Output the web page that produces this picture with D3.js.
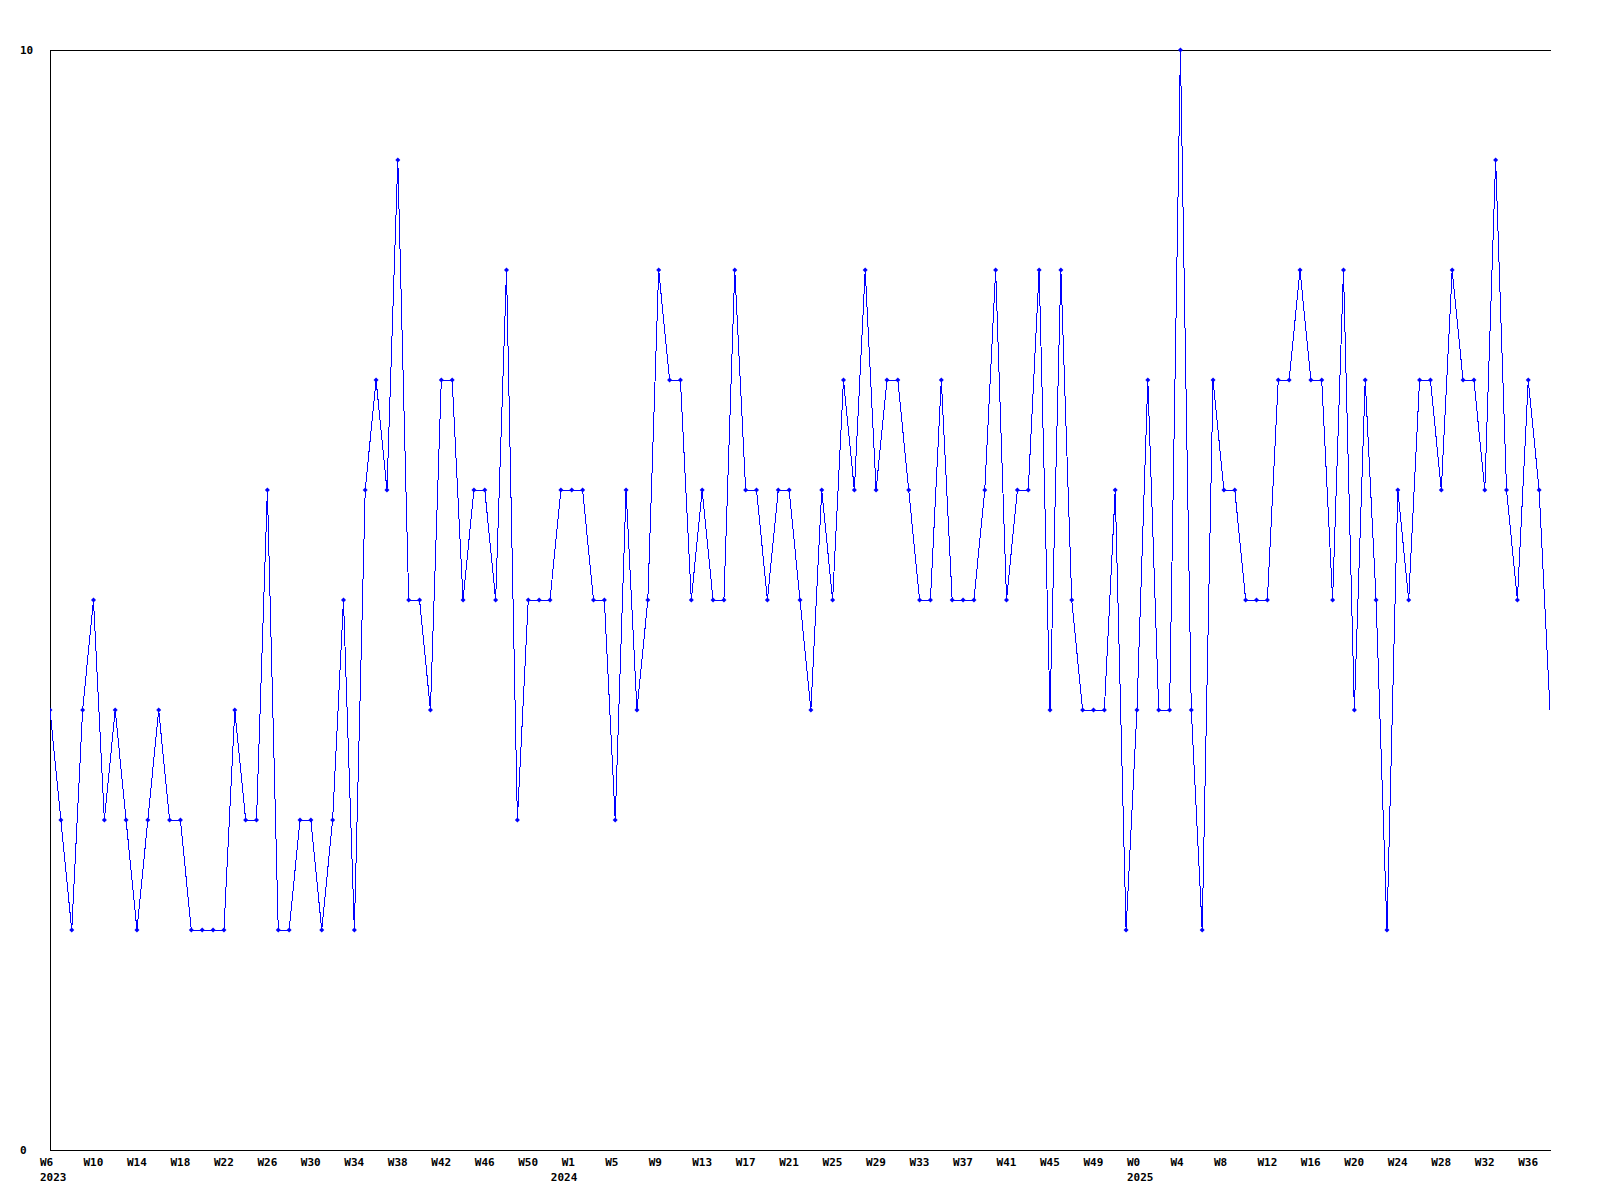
<!DOCTYPE html>
<html>
<head>
<meta charset="utf-8">
<script src="https://cdn.jsdelivr.net/npm/d3@7"></script>
<style>
  html, body { margin: 0; padding: 0; background: #fff; }
  svg { display: block; }
  text { font-family: "DejaVu Sans Mono", monospace; font-weight: bold; font-size: 11px; fill: #000; }
</style>
</head>
<body>
<svg id="chart"></svg>
<script>
// weekly counts, W6 2023 .. W38 2025
const values = [
    4, 3, 2, 4, 5, 3, 4, 3, 2, 3,
    4, 3, 3, 2, 2, 2, 2, 4, 3, 3,
    6, 2, 2, 3, 3, 2, 3, 5, 2, 6,
    7, 6, 9, 5, 5, 4, 7, 7, 5, 6,
    6, 5, 8, 3, 5, 5, 5, 6, 6, 6,
    5, 5, 3, 6, 4, 5, 8, 7, 7, 5,
    6, 5, 5, 8, 6, 6, 5, 6, 6, 5,
    4, 6, 5, 7, 6, 8, 6, 7, 7, 6,
    5, 5, 7, 5, 5, 5, 6, 8, 5, 6,
    6, 8, 4, 8, 5, 4, 4, 4, 6, 2,
    4, 7, 4, 4, 10, 4, 2, 7, 6, 6,
    5, 5, 5, 7, 7, 8, 7, 7, 5, 8,
    4, 7, 5, 2, 6, 5, 7, 7, 6, 8,
    7, 7, 6, 9, 6, 5, 7, 6, 4
];

// one label every 4 weeks
const weekLabels = [
    'W6', 'W10', 'W14', 'W18', 'W22', 'W26', 'W30', 'W34', 'W38', 'W42', 'W46', 'W50',
    'W1', 'W5', 'W9', 'W13', 'W17', 'W21', 'W25', 'W29', 'W33', 'W37', 'W41', 'W45', 'W49',
    'W0', 'W4', 'W8', 'W12', 'W16', 'W20', 'W24', 'W28', 'W32', 'W36'
];
const years = ['2023', '2024', '2025'];
const yearWeek = [0, 47, 100];   // first week (data index) shown for each year

const yTicks = [0, 10];

document.addEventListener('DOMContentLoaded', () => {

    // --- 1. size / margins ---
    const W = 1600, H = 1200;
    const left = 50, right = 1550, top = 50, bottom = 1150;

    const svg = d3.select('#chart').attr('width', W).attr('height', H);

    // --- 2. scales ---
    const x = d3.scaleLinear().domain([0, values.length - 1]).range([left, right]);
    const y = d3.scaleLinear().domain([0, 10]).range([bottom, top]);

    // --- 3. frame (left, top, bottom only) ---
    const frame = svg.append('g')
        .attr('stroke', '#000')
        .attr('stroke-width', 1)
        .attr('shape-rendering', 'crispEdges');
    frame.append('line').attr('x1', left).attr('x2', left).attr('y1', top).attr('y2', bottom);
    frame.append('line').attr('x1', left).attr('x2', right + 1).attr('y1', top).attr('y2', top);
    frame.append('line').attr('x1', left).attr('x2', right + 1).attr('y1', bottom).attr('y2', bottom);

    // --- 4. y labels ---
    svg.append('g').selectAll('text')
        .data(yTicks)
        .enter()
        .append('text')
        .attr('x', 20)
        .attr('y', d => y(d) + 4)
        .text(d => d);

    // --- 5. x labels ---
    const tickIdx = weekLabels.map((_, i) => i * 4);
    const xAxis = svg.append('g').attr('class', 'x-labels');
    xAxis.selectAll('text.week')
        .data(tickIdx)
        .enter()
        .append('text')
        .attr('class', 'week')
        .attr('x', d => x(d) - 10)
        .attr('y', bottom + 16)
        .text((d, i) => weekLabels[i]);

    xAxis.selectAll('text.year')
        .data(years)
        .enter()
        .append('text')
        .attr('class', 'year')
        .attr('x', (d, i) => x(yearWeek[i]) - 10)
        .attr('y', bottom + 31)
        .text(d => d);

    // --- 6. line + markers ---
    svg.append('clipPath').attr('id', 'plot-clip')
        .append('rect')
        .attr('x', left).attr('y', top - 3)
        .attr('width', right - left + 1).attr('height', bottom - top + 3);

    const plot = svg.append('g').attr('clip-path', 'url(#plot-clip)');

    const line = d3.line()
        .x((d, i) => x(i))
        .y(d => y(d));

    plot.append('path')
        .datum(values)
        .attr('d', line)
        .attr('fill', 'none')
        .attr('stroke', '#0000ff')
        .attr('stroke-width', 1)
        .attr('shape-rendering', 'crispEdges');

    // last point sits on the edge and has no marker in the original
    const diamond = 'M0,-2.5L2.5,0L0,2.5L-2.5,0Z';
    plot.selectAll('.pt')
        .data(values.slice(0, -1))
        .enter()
        .append('path')
        .attr('class', 'pt')
        .attr('transform', (d, i) => `translate(${x(i)},${y(d)})`)
        .attr('d', diamond)
        .attr('fill', '#0000ff');
});
</script>
</body>
</html>
